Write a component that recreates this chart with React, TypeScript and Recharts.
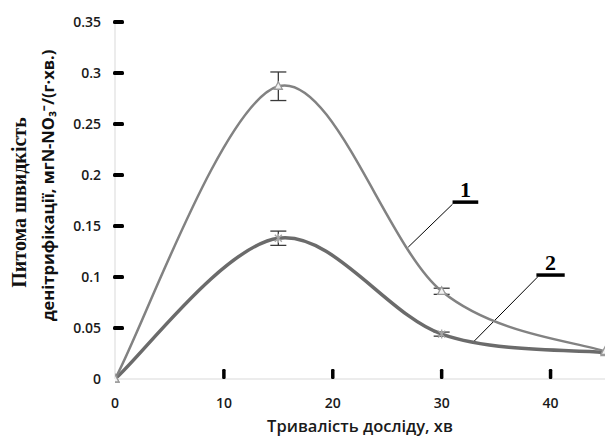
import React from 'react';
import { LineChart, Line, XAxis, YAxis, ErrorBar, ReferenceLine, Label } from 'recharts';

// тривалість досліду, хв
const minutes = [0, 15, 30, 45];
// крива 1
const rate1 = [0, 0.287, 0.086, 0.027];
const err1 = [0, 0.014, 0.003, 0];
// крива 2
const rate2 = [0, 0.138, 0.044, 0.026];
const err2 = [0, 0.007, 0.002, 0];

const xTicks = [0, 10, 20, 30, 40];
const yTicks = [0, 0.05, 0.1, 0.15, 0.2, 0.25, 0.3, 0.35];

// підписи кривих: риска під номером і виносна лінія
const label1 = { text: '1', under: [31.0, 33.36, 0.1734], leader: [31.0, 0.1714, 26.93, 0.1293] };
const label2 = { text: '2', under: [38.7, 41.3, 0.1019], leader: [38.8, 0.0999, 32.93, 0.0365] };

const data = minutes.map((m, i) => ({ m, r1: rate1[i], e1: err1[i], r2: rate2[i], e2: err2[i] }));

const sans = '"Open Sans", "Liberation Sans", sans-serif';
const serif = '"Liberation Serif", "DejaVu Serif", serif';

// згладжування як у Excel (Catmull-Rom через криві Безьє)
const smoothCurve = (context: any) => {
  let xs: number[] = [];
  let ys: number[] = [];
  return {
    areaStart() {},
    areaEnd() {},
    lineStart() { xs = []; ys = []; },
    point(x: number, y: number) { xs.push(+x); ys.push(+y); },
    lineEnd() {
      const n = xs.length;
      if (!n) return;
      context.moveTo(xs[0], ys[0]);
      for (let i = 0; i < n - 1; i++) {
        const x0 = i > 0 ? xs[i - 1] : xs[i];
        const y0 = i > 0 ? ys[i - 1] : ys[i];
        const x3 = i + 2 < n ? xs[i + 2] : xs[i + 1];
        const y3 = i + 2 < n ? ys[i + 2] : ys[i + 1];
        context.bezierCurveTo(
          xs[i] + (xs[i + 1] - x0) / 6, ys[i] + (ys[i + 1] - y0) / 6,
          xs[i + 1] - (x3 - xs[i]) / 6, ys[i + 1] - (y3 - ys[i]) / 6,
          xs[i + 1], ys[i + 1]
        );
      }
    },
  };
};

const TriangleDot = (props: any) => {
  const { cx, cy, index } = props;
  if (cx == null || cy == null) return <g key={index} />;
  return (
    <path key={index} d={`M${cx},${cy - 4.5} L${cx + 4},${cy + 3} L${cx - 4},${cy + 3} Z`}
      fill="#f2f2f2" stroke="#9a9a9a" strokeWidth={1.3} />
  );
};

const StarDot = (props: any) => {
  const { cx, cy, index } = props;
  if (cx == null || cy == null) return <g key={index} />;
  if (index === 0 || index === minutes.length - 1) return <TriangleDot {...props} />;
  const r = 3.5;
  return (
    <path key={index}
      d={`M${cx - r},${cy - r} L${cx + r},${cy + r} M${cx - r},${cy + r} L${cx + r},${cy - r} M${cx},${cy - r - 1} L${cx},${cy + r + 1}`}
      stroke="#a6a6a6" strokeWidth={1.4} fill="none" />
  );
};

const YTick = (props: any) => {
  const { x, y, payload } = props;
  return (
    <g>
      {payload.value !== 0 && <rect x={x + 12} y={y - 2} width={11} height={4} rx={1.5} fill="#000" />}
      <text x={x} y={y} dy="0.36em" textAnchor="end" fontFamily={sans} fontWeight={600} fontSize={14} fill="#1a1a1a">
        {payload.value}
      </text>
    </g>
  );
};

const XTick = (props: any) => {
  const { x, y, payload } = props;
  return (
    <g>
      {payload.value !== 0 && <rect x={x - 1.75} y={y - 29} width={3.5} height={10} rx={1.2} fill="#000" />}
      <text x={x} y={y} dy="0.71em" textAnchor="middle" fontFamily={sans} fontWeight={600} fontSize={14} fill="#1a1a1a">
        {payload.value}
      </text>
    </g>
  );
};

const YTitle = (props: any) => {
  const { viewBox } = props;
  const cy = viewBox.y + viewBox.height / 2;
  const x1 = viewBox.x + 19;
  const y1 = cy + 2;
  const x2 = viewBox.x + 47;
  const y2 = cy - 15;
  return (
    <g>
      <text x={x1} y={y1} transform={`rotate(-90, ${x1}, ${y1})`} textAnchor="middle" dominantBaseline="central"
        fontFamily={serif} fontWeight={700} fontSize={20} fill="#111">
        Питома швидкість
      </text>
      <text x={x2} y={y2} transform={`rotate(-90, ${x2}, ${y2})`} textAnchor="middle" dominantBaseline="central"
        fontFamily={sans} fontWeight={700} fontSize={16.5} fill="#111">
        денітрифікації,  мгN-NO₃⁻/(г·хв.)
      </text>
    </g>
  );
};

const XTitle = (props: any) => {
  const { viewBox } = props;
  return (
    <text x={viewBox.x + viewBox.width / 2} y={viewBox.y + 53} textAnchor="middle"
      fontFamily={sans} fontWeight={600} fontSize={16.5} fill="#1a1a1a">
      Тривалість досліду, хв
    </text>
  );
};

const numberLabel = (text: string) => (props: any) => {
  const { viewBox } = props;
  return (
    <text x={viewBox.x + viewBox.width / 2} y={viewBox.y - 5} textAnchor="middle"
      fontFamily={serif} fontWeight={700} fontSize={22} fill="#000">
      {text}
    </text>
  );
};

const renderCurveLabel = (l: typeof label1) => [
  <ReferenceLine key={l.text + 'u'} ifOverflow="visible"
    segment={[{ x: l.under[0], y: l.under[2] }, { x: l.under[1], y: l.under[2] }]}
    stroke="#000" strokeWidth={3.5}
    label={{ content: numberLabel(l.text) }} />,
  <ReferenceLine key={l.text + 'l'} ifOverflow="visible"
    segment={[{ x: l.leader[0], y: l.leader[1] }, { x: l.leader[2], y: l.leader[3] }]}
    stroke="#000" strokeWidth={1} />,
];

export default function App() {
  return (
    <div style={{ position: 'absolute', left: 0, top: 0, background: '#fff' }}>
      <LineChart width={614} height={436} data={data} margin={{ top: 22, right: 9, bottom: 8, left: 0 }}>
        <XAxis dataKey="m" type="number" domain={[0, 45]} ticks={xTicks} allowDataOverflow
          stroke="#d9d9d9" tickLine={false} tickSize={8} tickMargin={11} height={49} tick={<XTick />}>
          <Label content={<XTitle />} />
        </XAxis>
        <YAxis type="number" domain={[0, 0.35]} ticks={yTicks} width={115}
          stroke="#d9d9d9" tickLine={false} tickSize={8} tickMargin={6} tick={<YTick />}>
          <Label content={<YTitle />} />
        </YAxis>
        {renderCurveLabel(label1)}
        {renderCurveLabel(label2)}
        <Line dataKey="r2" type={smoothCurve as any} stroke="#6b6b6b" strokeWidth={3.5} dot={<StarDot />}
          activeDot={false} isAnimationActive={false}>
          <ErrorBar dataKey="e2" width={8} stroke="#3a3a3a" strokeWidth={1.3} direction="y" />
        </Line>
        <Line dataKey="r1" type={smoothCurve as any} stroke="#828282" strokeWidth={2.5} dot={<TriangleDot />}
          activeDot={false} isAnimationActive={false}>
          <ErrorBar dataKey="e1" width={8} stroke="#3a3a3a" strokeWidth={1.3} direction="y" />
        </Line>
      </LineChart>
    </div>
  );
}
